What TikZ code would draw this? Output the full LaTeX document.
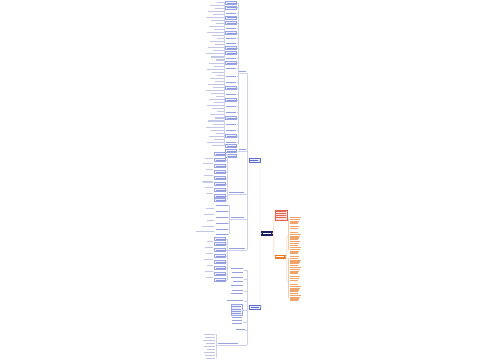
\documentclass[tikz,border=0pt]{standalone}
\definecolor{navy}{HTML}{1C2260}
\definecolor{bfill}{HTML}{EEF1FC}
\definecolor{bdraw}{HTML}{9AA5E4}
\definecolor{bdark}{HTML}{5E6CCB}
\definecolor{btext}{HTML}{96A1DE}
\definecolor{gtext}{HTML}{C2C7E6}
\definecolor{bline}{HTML}{CDD1F0}
\definecolor{orfill}{HTML}{E8782A}
\definecolor{ortext}{HTML}{F0A46C}
\definecolor{oline}{HTML}{F6C8A4}
\definecolor{rfill}{HTML}{FBE2DD}
\definecolor{rdraw}{HTML}{E2604E}
\definecolor{rtext}{HTML}{E06A5A}
\newcommand\mytbar[4]{\fill[#4] (#1,#2) rectangle ++(#3,1.1);}
\newcommand\mybbox[3]{\filldraw[fill=bfill,draw=bdraw,line width=0.25pt] (#1,#2-1.5) rectangle ++(#3,3);
  \fill[bdark!70] (#1+1,#2-0.5) rectangle ++(#3-2,1);}
\begin{document}
\begin{tikzpicture}[x=1pt,y=-1pt,
  bl/.style={draw=bline,line width=0.35pt},
  ol/.style={draw=oline,line width=0.35pt},
  mainbox/.style={inner sep=0pt,anchor=north west}]
\fill[white] (0,0) rectangle (500,360);
% ---------- root ----------
\node[mainbox,fill=navy,minimum width=11.5pt,minimum height=5.5pt] (root) at (261,230.3) {};
\fill[white] (262.8,232.5) rectangle (270.8,233.6);
% ---------- right side ----------
\node[mainbox,fill=rfill,draw=rdraw,line width=0.3pt,minimum width=12.5pt,minimum height=9.5pt] (o1) at (274.5,210) {};
\foreach \y in {211.3,213.3,215.3,217.3}{\mytbar{275.8}{\y}{10}{rtext}}
\node[mainbox,fill=orfill,minimum width=11pt,minimum height=4pt] (o2) at (274.5,254.5) {};
\fill[white] (276,256) rectangle (284,257);
\draw[ol,rounded corners=1.5pt] (root.east) -- ++(1,0) |- (o1.west);
\draw[ol,rounded corners=1.5pt] (root.east) -- ++(1,0) |- (o2.west);
\coordinate (p1) at (287.5,236);
\coordinate (p2) at (287.5,282);
\draw[ol,rounded corners=1.5pt] (o2.east) -- ++(1,0) |- (p1);
\draw[ol,rounded corners=1.5pt] (o2.east) -- ++(1,0) |- (p2);
\draw[ol] (288.3,219) -- (288.3,250);
\draw[ol] (288.3,258) -- (288.3,298);
\foreach \ys/\n/\m in {217/4/219, 226/2/227, 232/5/236, 241/3/243, 247/4/250,
                       256/6/260, 267/4/270, 276/3/278, 284/5/288, 293/5/297}{
  \foreach \k in {1,...,\n}{
    \pgfmathsetmacro\yy{\ys+1.8*(\k-1)}
    \pgfmathsetmacro\ww{8.5+mod(\k*3+\n,4)}
    \mytbar{289.5}{\yy}{\ww}{ortext}
  }
}
% ---------- left: level 1 ----------
\node[mainbox,fill=bfill,draw=bdark,line width=0.3pt,minimum width=11pt,minimum height=4.5pt] (b1) at (248.5,157.8) {};
\fill[bdark] (250,159.5) rectangle (258,160.6);
\node[mainbox,fill=bfill,draw=bdark,line width=0.3pt,minimum width=11pt,minimum height=4.5pt] (b4) at (249,304.8) {};
\fill[bdark] (250.5,306.5) rectangle (258.5,307.6);
\draw[bl,rounded corners=1.5pt] (root.west) -- ++(-1,0) |- (b1.east);
\draw[bl,rounded corners=1.5pt] (root.west) -- ++(-1,0) |- (b4.east);
% ---------- B1 children ----------
\coordinate (n72) at (238,72.8);
\coordinate (n150) at (238,150.8);
\coordinate (n193) at (227,193.8);
\coordinate (n218) at (229,218.8);
\coordinate (n249) at (227,249.8);
\draw[bl] (b1.west) -- (247,160);
\draw[bl] (247,72.8) -- (247,249.8);
\foreach \c/\w in {n72/9,n150/9,n193/20,n218/18,n249/20}{
  \draw[bl] (\c) -- ++(\w,0);
}
\mytbar{239}{70.8}{7}{btext}
\mytbar{239}{148.8}{7}{btext}
\mytbar{229}{191.8}{15}{btext}
\mytbar{231}{216.8}{13}{btext}
\mytbar{229}{247.8}{16}{btext}
% N72 group
\draw[bl] (238,3) -- (238,144);
\foreach \y in {3,7.5,17.5,23,33,48,53,63,88,100,118,136}{
  \mybbox{225.5}{\y}{11}
  \draw[bl] (236.5,\y) -- (238,\y);
}
\foreach \y in {13,28,38,43,58,68,76,82,94,106,112,124,130,142}{
  \mytbar{226}{\y-0.5}{10}{btext}
  \draw[bl] (236.5,\y) -- (238,\y);
}
\foreach \i in {0,...,47}{
  \pgfmathsetmacro\yy{1.5+3.05*\i}
  \pgfmathsetmacro\ww{7+mod(\i*7,12)}
  \mytbar{223.5-\ww}{\yy}{\ww}{gtext}
}
\draw[bl] (224.5,2) -- (224.5,146);
% N150 group
\foreach \y in {146,151,156}{\mybbox{225.5}{\y}{11}}
% N193 group
\draw[bl] (227,154) -- (227,200);
\foreach \y in {154,160,166,172,178,184,190,196,200}{
  \mybbox{214.5}{\y}{11}
  \draw[bl] (225.5,\y) -- (227,\y);
}
\foreach \y/\w in {158/8,163/10,169/7,175/9,181/11,187/8,193/7}{\mytbar{213-\w}{\y}{\w}{gtext}}
\mytbar{203}{181.5}{10}{gtext}
% N218 group
\draw[bl] (229,205) -- (229,234);
\foreach \y in {205,211,217,223,229,234}{
  \mytbar{216}{\y-0.5}{12}{btext}
  \draw[bl] (228,\y) -- (229,\y);
}
\foreach \y/\w in {208/8,214/10,220/7,226/12,231/18}{\mytbar{214-\w}{\y}{\w}{gtext}}
% N249 group
\draw[bl] (227,239) -- (227,280);
\foreach \y in {239,244,250,256,262,268,274,280}{
  \mybbox{214.5}{\y}{11}
  \draw[bl] (225.5,\y) -- (227,\y);
}
\foreach \y/\w in {241/6,247/8,253/7,259/9,265/6,271/8,277/7}{\mytbar{213-\w}{\y}{\w}{gtext}}
% ---------- B4 children ----------
\draw[bl] (b4.west) -- (247.3,307);
\draw[bl] (247.3,270) -- (247.3,344.8);
\foreach \y in {270,279,291,301}{\draw[bl] (243.5,\y) -- (247.3,\y);}
\foreach \y/\w in {268/12,272/11,277/12,281/10,285/12,289.5/11,293/12,300/16}{\mytbar{243-\w}{\y}{\w}{btext}}
\filldraw[fill=bfill,draw=bdraw,line width=0.3pt] (231,304.5) rectangle (242,315);
\foreach \y in {306,308.5,311,313}{\mytbar{232}{\y}{9}{bdark!70}}
\foreach \y in {317,320,323}{\mytbar{231.5}{\y}{10}{btext}}
\draw[bl] (242,310) -- (247.3,310);
\draw[bl] (243,322) -- (247.3,322);
\mytbar{236}{328.5}{9}{btext}
\draw[bl] (245,330) -- (247.3,330);
\coordinate (n344) at (216,344.8);
\draw[bl] (n344) -- (247.3,344.8);
\mytbar{218}{342.8}{20}{btext}
\draw[bl] (216,334) -- (216,358);
\foreach \y/\w in {334/11,337/10,340/12,343/9,346/11,349/8,352/11,355/10,358/9}{
  \mytbar{215-\w}{\y-0.5}{\w}{gtext}
}
\end{tikzpicture}
\end{document}
